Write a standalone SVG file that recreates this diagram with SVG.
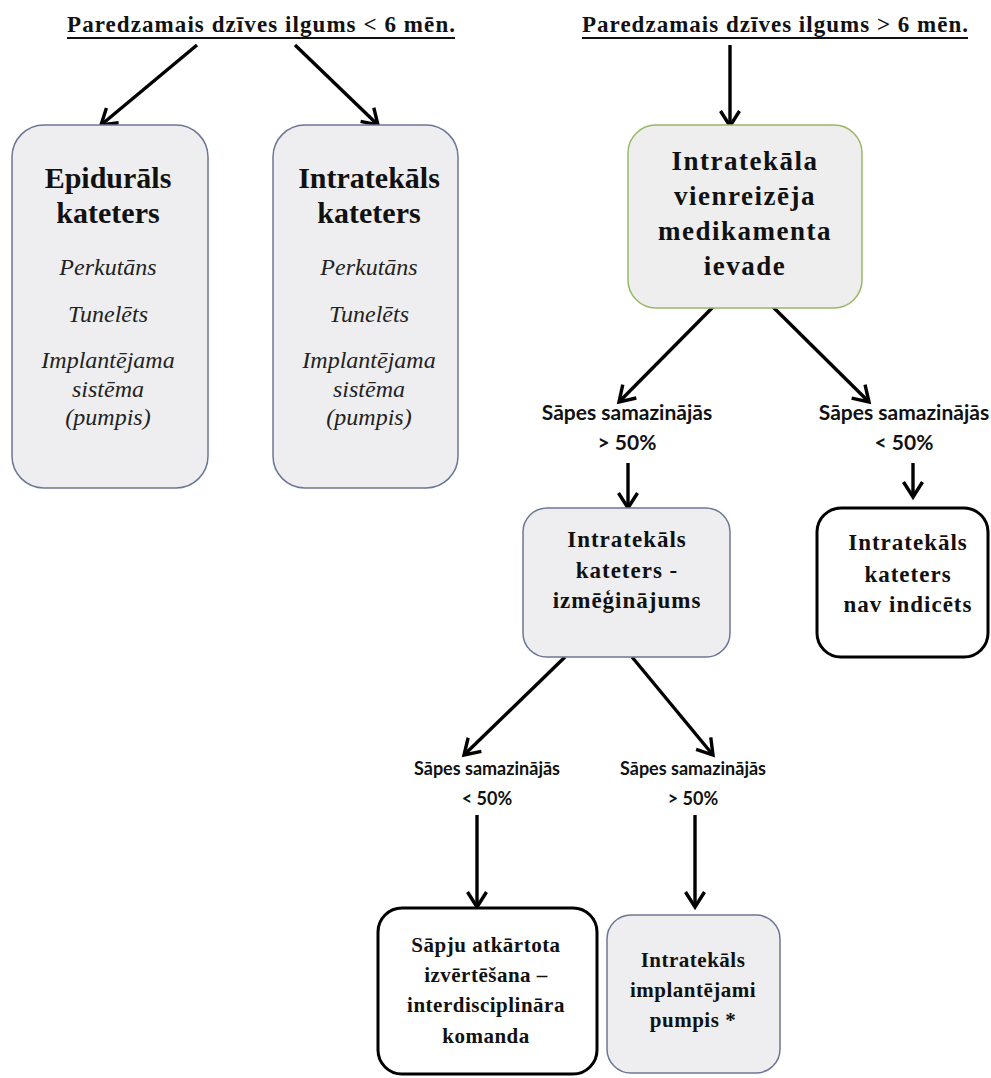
<svg xmlns="http://www.w3.org/2000/svg" width="991" height="1078" viewBox="0 0 991 1078">
  <defs>
    <marker id="head" markerUnits="userSpaceOnUse" markerWidth="26" markerHeight="26" refX="21" refY="13" orient="auto" viewBox="0 0 26 26">
      <path d="M6,3.5 L21,13 L6,22.5" fill="none" stroke="#000" stroke-width="3.4" stroke-linejoin="miter"/>
    </marker>
  </defs>
  <style>
    .hdr { font-family: "Liberation Serif", "Times New Roman", serif; font-weight: bold; font-size: 23px; fill: #111; }
    .uline { stroke: #111; stroke-width: 2; }
    .big { font-family: "Liberation Serif", "Times New Roman", serif; font-weight: bold; font-size: 30px; fill: #111; text-anchor: middle; }
    .med { font-family: "Liberation Serif", "Times New Roman", serif; font-weight: bold; font-size: 27px; fill: #111; text-anchor: middle; letter-spacing: 1.5px; }
    .mid { font-family: "Liberation Serif", "Times New Roman", serif; font-weight: bold; font-size: 21px; fill: #111; text-anchor: middle; letter-spacing: 0.5px; }
    .mid2 { font-family: "Liberation Serif", "Times New Roman", serif; font-weight: bold; font-size: 23px; fill: #111; text-anchor: middle; letter-spacing: 1px; }
    .ital { font-family: "Liberation Serif", "Times New Roman", serif; font-style: italic; font-size: 24px; fill: #222; text-anchor: middle; }
    .lbl { font-family: "Lato", "Liberation Sans", sans-serif; font-weight: bold; font-size: 21px; fill: #111; text-anchor: middle; }
    .lbl2 { font-family: "Lato", "Liberation Sans", sans-serif; font-weight: bold; font-size: 18px; fill: #111; text-anchor: middle; }
    .grey { fill: #eeeef0; stroke: #6c7696; stroke-width: 1.5; }
    .green { fill: #eeeeee; stroke: #98b868; stroke-width: 1.5; }
    .plain { fill: #ffffff; stroke: #000; stroke-width: 3; }
    .conn { stroke: #000; stroke-width: 3.4; fill: none; marker-end: url(#head); }
  </style>

  <!-- headings -->
  <g id="heading-short">
    <text class="hdr" x="67" y="32" textLength="388" lengthAdjust="spacing">Paredzamais dzīves ilgums &lt; 6 mēn.</text>
    <line class="uline" x1="67" y1="38" x2="455" y2="38"/>
  </g>
  <g id="heading-long">
    <text class="hdr" x="582" y="32" textLength="386" lengthAdjust="spacing">Paredzamais dzīves ilgums &gt; 6 mēn.</text>
    <line class="uline" x1="582" y1="38" x2="968" y2="38"/>
  </g>

  <!-- connectors -->
  <g id="connectors">
    <line class="conn" x1="197" y1="45" x2="101" y2="125"/>
    <line class="conn" x1="295" y1="45" x2="378" y2="125"/>
    <line class="conn" x1="730" y1="45" x2="730" y2="126"/>
    <line class="conn" x1="713" y1="307" x2="619" y2="402"/>
    <line class="conn" x1="773" y1="307" x2="869" y2="402"/>
    <line class="conn" x1="628" y1="463" x2="628" y2="508"/>
    <line class="conn" x1="913" y1="463" x2="913" y2="497"/>
    <line class="conn" x1="565" y1="657" x2="464" y2="755"/>
    <line class="conn" x1="632" y1="657" x2="713" y2="755"/>
    <line class="conn" x1="477" y1="815" x2="477" y2="907"/>
    <line class="conn" x1="695" y1="815" x2="695" y2="907"/>
  </g>

  <!-- branch: life expectancy < 6 months -->
  <g id="epidural">
    <rect class="grey" x="12" y="125" width="196" height="363" rx="32"/>
    <text class="big" x="108" y="188">Epidurāls</text>
    <text class="big" x="108" y="223">kateters</text>
    <text class="ital" x="108" y="275">Perkutāns</text>
    <text class="ital" x="108" y="322">Tunelēts</text>
    <text class="ital" x="108" y="368">Implantējama</text>
    <text class="ital" x="108" y="397">sistēma</text>
    <text class="ital" x="108" y="425">(pumpis)</text>
  </g>
  <g id="intrathecal-catheter">
    <rect class="grey" x="273" y="125" width="185" height="363" rx="32"/>
    <text class="big" x="369" y="188">Intratekāls</text>
    <text class="big" x="369" y="223">kateters</text>
    <text class="ital" x="369" y="275">Perkutāns</text>
    <text class="ital" x="369" y="322">Tunelēts</text>
    <text class="ital" x="369" y="368">Implantējama</text>
    <text class="ital" x="369" y="397">sistēma</text>
    <text class="ital" x="369" y="425">(pumpis)</text>
  </g>

  <!-- branch: life expectancy > 6 months -->
  <g id="single-dose">
    <rect class="green" x="628" y="125" width="234" height="183" rx="28"/>
    <text class="med" x="745" y="170">Intratekāla</text>
    <text class="med" x="745" y="205">vienreizēja</text>
    <text class="med" x="745" y="240">medikamenta</text>
    <text class="med" x="745" y="275">ievade</text>
  </g>

  <g id="label-gt50-a">
    <text class="lbl" x="627" y="420">Sāpes samazinājās</text>
    <text class="lbl" x="627" y="450">&gt; 50%</text>
  </g>
  <g id="label-lt50-a">
    <text class="lbl" x="904" y="420">Sāpes samazinājās</text>
    <text class="lbl" x="904" y="450">&lt; 50%</text>
  </g>

  <g id="trial">
    <rect class="grey" x="523" y="508" width="207" height="149" rx="24"/>
    <text class="mid2" x="627" y="547">Intratekāls</text>
    <text class="mid2" x="627" y="578">kateters -</text>
    <text class="mid2" x="627" y="608">izmēģinājums</text>
  </g>
  <g id="not-indicated">
    <rect class="plain" x="817" y="508" width="171" height="149" rx="24"/>
    <text class="mid2" x="908" y="550">Intratekāls</text>
    <text class="mid2" x="908" y="582">kateters</text>
    <text class="mid2" x="908" y="612">nav indicēts</text>
  </g>

  <g id="label-lt50-b">
    <text class="lbl2" x="487" y="775">Sāpes samazinājās</text>
    <text class="lbl2" x="487" y="805">&lt; 50%</text>
  </g>
  <g id="label-gt50-b">
    <text class="lbl2" x="693" y="775">Sāpes samazinājās</text>
    <text class="lbl2" x="693" y="805">&gt; 50%</text>
  </g>

  <g id="reassessment">
    <rect class="plain" x="378" y="908" width="219" height="166" rx="24"/>
    <text class="mid" x="486" y="952">Sāpju atkārtota</text>
    <text class="mid" x="486" y="982">izvērtēšana –</text>
    <text class="mid" x="486" y="1012">interdisciplināra</text>
    <text class="mid" x="486" y="1043">komanda</text>
  </g>
  <g id="implant-pump">
    <rect class="grey" x="607" y="915" width="173" height="158" rx="24"/>
    <text class="mid" x="693" y="967">Intratekāls</text>
    <text class="mid" x="693" y="997">implantējami</text>
    <text class="mid" x="693" y="1027">pumpis *</text>
  </g>
</svg>
